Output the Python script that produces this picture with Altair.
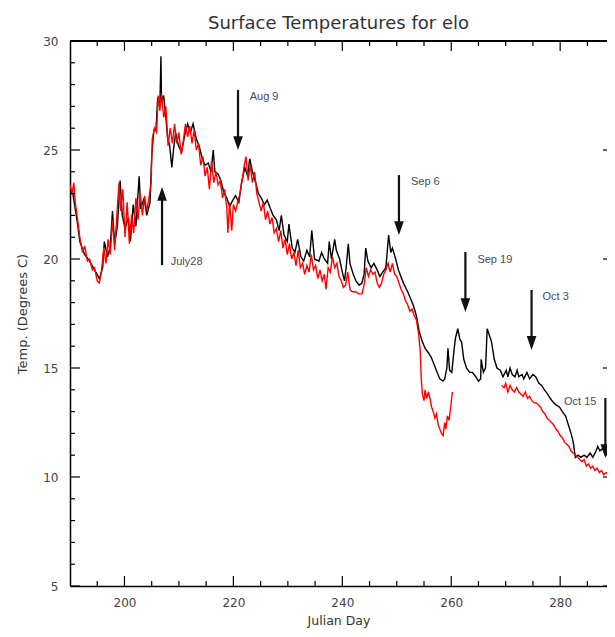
import altair as alt
import pandas as pd

# ---------------- data ----------------
black_day = [190.0, 190.4, 190.9, 191.4, 191.8, 192.7, 193.6, 194.5, 195.4, 196.0, 196.3, 196.9, 197.4, 197.8,
             198.2, 198.7, 199.2, 199.6, 200.1, 200.7, 201.1, 201.6, 202.1, 202.7, 203.0, 203.6, 204.1, 204.7,
             205.0, 205.4, 205.8, 206.1, 206.5, 206.7, 206.8, 207.2, 207.6, 207.9, 208.3, 208.7, 209.0, 209.4,
             209.9, 210.5, 211.0, 211.6, 212.1, 212.6, 213.2, 213.7, 214.3, 214.8, 215.4, 215.9, 216.3, 216.6,
             217.2, 217.7, 218.3, 218.8, 219.3, 219.9, 220.4, 221.0, 221.5, 222.1, 222.6, 223.0, 223.5, 224.1,
             224.6, 225.1, 225.7, 226.2, 226.8, 227.3, 227.9, 228.4, 228.8, 229.3, 229.9, 230.2, 230.8, 231.3,
             231.8, 232.4, 232.9, 233.5, 234.0, 234.4, 234.9, 235.7, 236.2, 236.7, 237.3, 237.6, 238.0, 238.6,
             238.9, 239.5, 240.0, 240.4, 240.7, 241.1, 241.4, 242.0, 242.5, 243.1, 243.6, 244.0, 244.3, 244.7,
             245.3, 245.8, 246.4, 246.9, 247.4, 248.0, 248.5, 248.9, 249.2, 249.8, 250.3, 250.9, 251.4, 252.0,
             252.5, 253.0, 253.6, 254.1, 254.7, 255.2, 255.8, 256.3, 256.8, 257.4, 257.9, 258.5, 258.8, 259.2,
             259.4, 259.7, 260.1, 260.5, 260.8, 261.2, 261.6, 261.9, 262.3, 262.8, 263.4, 263.9, 264.5, 265.0,
             265.4, 265.5, 265.9, 266.3, 266.6, 267.0, 267.4, 267.9, 268.4, 269.0, 269.5, 270.1, 270.4, 270.8,
             271.2, 271.7, 272.1, 272.4, 273.0, 273.3, 273.9, 274.4, 275.0, 275.5, 276.1, 276.6, 277.1, 277.7,
             278.2, 278.8, 279.3, 279.9, 280.4, 281.0, 281.5, 282.0, 282.4, 282.8, 283.3, 283.8, 284.4, 284.9,
             285.5, 286.0, 286.6, 286.9, 287.3, 287.8, 288.4, 288.9]
black_temp = [22.9, 23.2, 22.4, 21.6, 20.8, 20.2, 19.9, 19.5, 19.1, 19.6, 20.8, 20.1, 20.6, 22.2,
              20.7, 21.5, 23.6, 22.0, 21.4, 21.9, 20.8, 22.5, 21.5, 23.8, 22.3, 22.8, 22.0, 22.6,
              24.7, 25.9, 26.0, 27.4, 27.0, 29.3, 27.2, 27.5, 26.5, 25.6, 25.2, 24.2, 25.0, 25.8,
              25.2, 24.9, 25.6, 26.2, 25.8, 26.2, 25.5, 25.2, 24.6, 24.3, 24.4, 24.0, 25.0, 24.0,
              23.9, 23.6, 23.0, 22.8, 22.4, 22.7, 22.9, 22.6, 23.5, 24.2, 23.8, 24.6, 24.0, 23.5,
              23.0, 22.8, 22.5, 22.7, 22.3, 22.0, 21.8, 21.3, 22.0, 21.1, 20.8, 21.6, 20.5, 20.3,
              20.9, 20.1, 19.9, 20.4, 20.1, 21.3, 20.0, 19.9, 20.3, 20.0, 19.8, 20.8, 20.0, 20.9,
              20.4, 20.0, 19.4, 19.0, 19.6, 20.7, 19.8, 19.3, 19.0, 18.8, 18.9, 19.3, 20.5, 19.9,
              19.6, 19.8, 19.5, 19.2, 19.4, 19.6, 21.1, 20.3, 20.5, 20.0, 19.5, 19.1, 18.8, 18.5,
              18.2, 17.9, 17.4, 16.7, 16.2, 15.9, 15.7, 15.5, 15.2, 14.8, 14.5, 14.4, 14.5, 15.0,
              15.9, 14.9, 14.8, 15.8, 16.4, 16.8, 16.3, 16.2, 15.4, 15.0, 14.8, 14.8, 14.6, 14.4,
              14.5, 15.4, 14.8, 15.0, 16.8, 16.5, 16.2, 15.4, 15.0, 14.9, 14.6, 14.9, 14.6, 15.0,
              14.7, 14.6, 14.9, 14.6, 14.7, 14.5, 14.8, 14.5, 14.7, 14.6, 14.3, 14.2, 14.0, 13.8,
              13.6, 13.4, 13.3, 13.2, 13.0, 12.8, 12.4, 12.0, 11.6, 10.9, 11.0, 10.9, 11.0, 10.9,
              11.1, 10.9, 11.2, 11.4, 11.2, 11.3, 11.0, 11.2]

red_day = [190.0, 190.4, 190.7, 191.0, 191.4, 191.8, 192.3, 192.7, 193.2, 193.6, 194.1, 194.5, 195.0, 195.4,
           195.8, 196.2, 196.6, 197.0, 197.4, 197.8, 198.2, 198.6, 199.0, 199.3, 199.7, 200.1, 200.5, 200.9,
           201.3, 201.7, 202.1, 202.5, 202.9, 203.3, 203.7, 204.1, 204.5, 204.9, 205.1, 205.5, 205.9, 206.2,
           206.5, 206.8, 207.2, 207.6, 208.0, 208.4, 208.8, 209.2, 209.6, 210.0, 210.4, 210.8, 211.2, 211.6,
           212.0, 212.4, 212.8, 213.2, 213.6, 214.0, 214.4, 214.8, 215.2, 215.6, 216.0, 216.4, 216.8, 217.2,
           217.6, 218.0, 218.4, 218.8, 219.0, 219.3, 219.7, 220.0, 220.4, 220.8, 221.2, 221.6, 222.0, 222.3,
           222.7, 223.1, 223.5, 223.9, 224.3, 224.7, 225.1, 225.5, 225.9, 226.3, 226.7, 227.1, 227.5, 227.9,
           228.3, 228.7, 229.1, 229.5, 229.9, 230.3, 230.7, 231.1, 231.5, 231.9, 232.3, 232.7, 233.1, 233.5,
           233.9, 234.3, 234.7, 235.1, 235.5, 235.9, 236.3, 236.7, 237.0, 237.4, 237.8, 238.2, 238.6, 239.0,
           239.4, 239.8, 240.2, 240.6, 241.0, 241.4, 241.8, 242.4, 243.0, 243.6, 244.0, 244.4, 244.8, 245.2,
           245.6, 246.0, 246.4, 246.8, 247.2, 247.6, 248.0, 248.4, 248.8, 249.2, 249.6, 250.0, 250.4, 250.8,
           251.2, 251.6, 252.0, 252.4, 252.8, 253.2, 253.6, 254.0, 254.3, 254.5, 254.7, 255.0, 255.2, 255.5,
           255.8, 256.1, 256.4, 256.7, 257.0, 257.3, 257.6, 257.9, 258.2, 258.5, 258.8, 259.0, 259.3, 259.6,
           259.9, 260.2,
           269.3, 269.7, 270.0, 270.4, 270.8, 271.2, 271.6, 272.0, 272.4, 272.8, 273.2, 273.6, 274.0, 274.4,
           274.8, 275.2, 275.6, 276.0, 276.4, 276.8, 277.2, 277.6, 278.0, 278.4, 278.8, 279.2, 279.6, 280.0,
           280.4, 280.8, 281.2, 281.6, 282.0, 282.4, 282.8, 283.2, 283.6, 284.0, 284.4, 284.8, 285.2, 285.6,
           286.0, 286.4, 286.8, 287.2, 287.6, 288.0, 288.4, 288.9]
red_temp = [23.4, 23.0, 23.5, 22.5, 21.8, 21.0, 20.3, 20.6, 19.9, 20.0, 19.5, 19.6, 19.0, 18.9,
            19.5, 20.5, 19.8, 20.9, 20.2, 21.8, 20.4, 22.0, 23.5, 22.2, 23.2, 21.0, 22.6, 20.7,
            22.0, 21.2, 22.8, 21.8, 23.0, 22.0, 22.9, 22.2, 22.8, 23.5, 25.5, 26.0, 25.8, 27.5,
            26.8, 27.6, 26.5, 27.0, 25.2, 26.0, 25.3, 26.2, 25.3, 25.8, 24.8, 25.4, 26.2, 25.6,
            26.1, 25.3, 25.9, 25.0, 25.3, 24.3, 24.7, 23.8, 24.2, 23.2, 24.5, 23.5, 24.0, 23.4,
            23.6, 22.8, 23.2, 22.3, 21.2, 22.6, 21.3, 22.5, 22.2, 22.6, 23.0, 23.6, 24.3, 24.7,
            23.6, 24.3, 23.5, 24.0, 23.0, 22.6, 22.2, 22.6, 21.8, 22.2, 21.6, 21.9, 21.2, 21.4,
            20.8, 21.3, 20.5, 20.9, 20.2, 20.7, 20.0, 20.3, 19.7, 20.4, 19.6, 19.8, 19.3, 19.7,
            19.4, 20.2, 19.5, 19.7, 19.1, 19.5, 19.0, 19.3, 18.6, 19.6, 19.4, 20.1, 19.6, 19.8,
            19.2, 19.0, 18.7, 18.8, 19.4, 18.6, 18.5, 18.5, 18.4, 18.4, 18.8, 19.6, 19.2, 19.5,
            19.3, 19.4, 18.9, 18.7, 18.9, 19.3, 19.5, 19.8, 19.4, 19.8, 19.3, 19.2, 18.9, 18.6,
            18.4, 18.1, 17.9, 17.6, 17.7, 17.4, 17.2, 16.6, 15.8, 14.5, 13.8, 13.5, 14.0, 13.6,
            13.9, 13.6, 13.2, 13.0, 12.7, 12.9, 12.4, 12.2, 12.0, 11.9, 12.5, 12.2, 12.8, 12.6,
            13.2, 13.9,
            14.2, 14.1, 14.3, 13.9, 14.2, 14.0, 13.9, 14.1, 13.9, 13.8, 13.7, 13.9, 13.6, 13.7,
            13.5, 13.4, 13.4, 13.3, 13.2, 13.0, 12.9, 12.7, 12.6, 12.5, 12.4, 12.2, 12.1, 11.9,
            11.8, 11.6, 11.5, 11.4, 11.2, 11.1, 11.0, 10.9, 10.8, 10.7, 10.8, 10.5, 10.6, 10.4,
            10.5, 10.3, 10.4, 10.2, 10.3, 10.1, 10.2, 10.1]

# annotations: arrow day, arrow start temp, arrow tip temp, label, label day, label temp
arrow_labels = ["July28", "Aug 9", "Sep 6", "Sep 19", "Oct 3", "Oct 15"]
arrow_day = [206.9, 220.85, 250.4, 262.6, 274.75, 288.3]
arrow_from = [19.72, 27.75, 23.85, 20.32, 18.58, 13.62]
arrow_tip = [23.30, 25.0, 21.1, 17.57, 15.83, 10.87]
label_day = [208.5, 223.0, 252.6, 264.8, 276.75, 280.7]
label_temp = [19.86, 27.43, 23.53, 19.95, 18.26, 13.44]

x_major = [200, 220, 240, 260, 280]
x_minor = [195, 205, 210, 215, 225, 230, 235, 245, 250, 255, 265, 270, 275, 285]
y_major = [5, 10, 15, 20, 25, 30]
y_minor = [v for v in range(6, 30) if v % 5 != 0]

# ---------------- chart ----------------
W, H = 537, 545
FONT = "DejaVu Sans"
xs = alt.Scale(domain=[190, 288.6], nice=False, zero=False)
ys = alt.Scale(domain=[5, 30], nice=False, zero=False)
xaxis = alt.Axis(values=x_major, tickSize=0, labelPadding=11, grid=False, domainColor="black",
                 domainWidth=1.5, title="Julian Day", titlePadding=6, labelFont=FONT, labelFontSize=12,
                 labelColor="#444", titleFont=FONT, titleFontSize=12.5, titleFontWeight="normal",
                 titleColor="#333", labelFlush=False)
yaxis = alt.Axis(values=y_major, tickSize=0, labelPadding=12, grid=False, domainColor="black",
                 domainWidth=1.5, title="Temp. (Degrees C)", titlePadding=13, labelFont=FONT,
                 labelFontSize=12, labelColor="#444", titleFont=FONT, titleFontSize=13,
                 titleFontWeight="normal", titleColor="#333", format="d", labelFlush=False)


def X(f):
    return alt.X(f, type="quantitative", scale=xs, axis=xaxis)


def Y(f):
    return alt.Y(f, type="quantitative", scale=ys, axis=yaxis)


bdf = pd.DataFrame({"day": black_day, "temp": black_temp})
rdf = pd.DataFrame({"day": red_day, "temp": red_temp})
rdf["seg"] = (rdf["day"] > 265).astype(int)

black = alt.Chart(bdf).mark_line(color="black", strokeWidth=1.4, clip=True).encode(x=X("day"), y=Y("temp"))
red = alt.Chart(rdf).mark_line(color="#ff0000", strokeWidth=1.4, clip=True).encode(
    x=X("day"), y=Y("temp"), detail="seg:N")

adf = pd.DataFrame({"label": arrow_labels, "day": arrow_day, "y0": arrow_from, "y1": arrow_tip,
                    "lday": label_day, "ltemp": label_temp})
adf["dir"] = ["up" if a < b else "down" for a, b in zip(arrow_from, arrow_tip)]
adf["shaft_end"] = [b - 0.35 if d == "up" else b + 0.35 for b, d in zip(arrow_tip, adf["dir"])]

shafts = alt.Chart(adf).mark_rule(color="#111", strokeWidth=2.2, clip=True).encode(
    x=X("day"), y=Y("y0"), y2="shaft_end")
head_down = alt.Chart(adf).transform_filter("datum.dir == 'down'").mark_point(
    shape="M-0.7,-2L0.7,-2L0,0Z", filled=True, color="#111", opacity=1, size=190, clip=True).encode(
    x=X("day"), y=Y("y1"))
head_up = alt.Chart(adf).transform_filter("datum.dir == 'up'").mark_point(
    shape="M-0.7,2L0.7,2L0,0Z", filled=True, color="#111", opacity=1, size=190, clip=True).encode(
    x=X("day"), y=Y("y1"))
labels = alt.Chart(adf).mark_text(align="left", baseline="middle", font="Liberation Sans",
                                  fontSize=11, color="#464a58").encode(
    x=X("lday"), y=Y("ltemp"), text="label")

tick_col = "black"
xmaj = pd.DataFrame({"v": x_major})
xmin = pd.DataFrame({"v": x_minor})
ymaj = pd.DataFrame({"v": y_major})
ymin = pd.DataFrame({"v": y_minor})

t_bot_maj = alt.Chart(xmaj).mark_rule(color=tick_col, strokeWidth=1.2).encode(
    x=X("v"), y=alt.value(H), y2=alt.value(H - 10))
t_bot_min = alt.Chart(xmin).mark_rule(color=tick_col, strokeWidth=1.2).encode(
    x=X("v"), y=alt.value(H), y2=alt.value(H - 5))
t_top_maj = alt.Chart(xmaj).mark_rule(color=tick_col, strokeWidth=1.2).encode(
    x=X("v"), y=alt.value(0), y2=alt.value(10))
t_top_min = alt.Chart(xmin).mark_rule(color=tick_col, strokeWidth=1.2).encode(
    x=X("v"), y=alt.value(0), y2=alt.value(5))
t_left_maj = alt.Chart(ymaj).mark_rule(color=tick_col, strokeWidth=1.2).encode(
    y=Y("v"), x=alt.value(0), x2=alt.value(10))
t_left_min = alt.Chart(ymin).mark_rule(color=tick_col, strokeWidth=1.2).encode(
    y=Y("v"), x=alt.value(0), x2=alt.value(5))
t_right_maj = alt.Chart(ymaj).mark_rule(color=tick_col, strokeWidth=1.2).encode(
    y=Y("v"), x=alt.value(W - 4), x2=alt.value(W))
top_border = alt.Chart(xmaj).mark_rule(color="black", strokeWidth=1.5).encode(
    x=alt.value(0), x2=alt.value(W), y=alt.value(0))

chart = alt.layer(
    black, red, shafts, head_down, head_up, labels,
    t_bot_maj, t_bot_min, t_top_maj, t_top_min, t_left_maj, t_left_min, t_right_maj, top_border
).properties(
    width=W, height=H,
    title=alt.TitleParams("Surface Temperatures for elo", font=FONT, fontSize=18, fontWeight="normal",
                          color="#333", anchor="middle", offset=2),
    autosize=alt.AutoSizeParams(type="none"),
    padding={"left": 62, "top": 33, "right": 0, "bottom": 43},
).configure_view(stroke=None).configure(background="white")

chart.save("out.html", embed_options={"renderer": "svg", "actions": False})
